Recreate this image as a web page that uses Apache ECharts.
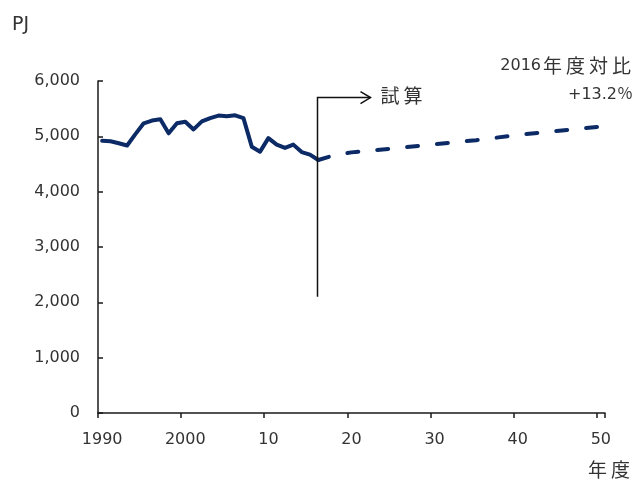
<!DOCTYPE html>
<html>
<head>
<meta charset="utf-8">
<script src="https://cdn.jsdelivr.net/npm/echarts@6/dist/echarts.min.js"></script>
<style>
  html, body { margin: 0; padding: 0; background: #fff; }
  #chart { width: 637px; height: 480px; }
</style>
</head>
<body>
<div id="chart"></div>
<script>
// Fiscal years on the horizontal axis
const years = [];
for (let y = 1990; y <= 2050; y++) years.push(String(y));

// Recorded values, FY1990–FY2016 (PJ)
const actualYears = ['1990','1991','1992','1993','1994','1995','1996','1997','1998','1999',
  '2000','2001','2002','2003','2004','2005','2006','2007','2008','2009',
  '2010','2011','2012','2013','2014','2015','2016'];
const actualValues = [4920, 4910, 4875, 4835, 5040, 5235, 5285, 5310, 5055, 5235,
  5265, 5125, 5270, 5330, 5375, 5365, 5380, 5330, 4813, 4723,
  4968, 4850, 4790, 4850, 4715, 4670, 4573];

// Estimated path, FY2016–FY2050 (PJ)
const estimateYears = ['2016','2018','2020','2025','2030','2035','2040','2045','2050'];
const estimateValues = [4573, 4660, 4710, 4780, 4858, 4930, 5025, 5100, 5177];

const yTicks = [0, 1000, 2000, 3000, 4000, 5000, 6000];

const FONT = 'DejaVu Sans, "Noto Sans CJK JP", sans-serif';
const CJK = '"Noto Sans CJK JP", sans-serif';
const TEXT = '#333';
const NAVY = '#0b2a66';

function alignTo(cats, vals) {
  const out = years.map(() => null);
  cats.forEach((c, i) => { out[years.indexOf(c)] = vals[i]; });
  return out;
}

// Spread CJK characters a little apart, as in the printed captions
function spaced(str) {
  return str.split('').map(ch => '{c|' + ch + '}').join('');
}

const chart = echarts.init(document.getElementById('chart'), null, { renderer: 'canvas' });

chart.setOption({
  animation: false,
  backgroundColor: '#fff',
  grid: { left: 98, right: 32, top: 81, bottom: 67 },
  xAxis: {
    type: 'category',
    data: years,
    boundaryGap: true,
    axisLine: { lineStyle: { color: '#1a1a1a', width: 1.5 } },
    axisTick: { show: true, interval: 9, length: 5, inside: false, lineStyle: { color: '#1a1a1a', width: 1.5 } },
    axisLabel: {
      interval: 9,
      margin: 19,
      fontFamily: FONT, fontSize: 16, color: TEXT,
      formatter: v => (v === '1990' || v === '2000') ? v : v.slice(2)
    },
    splitLine: { show: false }
  },
  yAxis: {
    type: 'value',
    min: yTicks[0], max: yTicks[yTicks.length - 1], interval: 1000,
    axisLine: { show: true, lineStyle: { color: '#1a1a1a', width: 1.5 } },
    axisTick: { show: true, inside: true, length: 5, lineStyle: { color: '#1a1a1a', width: 1.5 } },
    axisLabel: { margin: 18, fontFamily: FONT, fontSize: 16, color: TEXT },
    splitLine: { show: false }
  },
  series: [
    {
      name: '実績',
      type: 'line',
      data: alignTo(actualYears, actualValues),
      symbol: 'none',
      lineStyle: { color: NAVY, width: 4, join: 'round', cap: 'round' },
      z: 3
    },
    {
      name: '試算',
      type: 'line',
      data: alignTo(estimateYears, estimateValues),
      connectNulls: true,
      symbol: 'none',
      lineStyle: { color: NAVY, width: 4, type: [11, 19], cap: 'round', join: 'round' },
      z: 3
    }
  ]
});

// Marker for where the estimate begins: vertical rule with an arrow to the right
const ruleBase = chart.convertToPixel({ gridIndex: 0 }, ['2016', 2100]);
const ruleTop = chart.convertToPixel({ gridIndex: 0 }, ['2016', 5700]);
const vx = Math.round(ruleBase[0]) - 0.5;
const tipX = vx + 53;

const cjkRich = {
  c: { fontFamily: CJK, fontSize: 19, fill: TEXT, padding: [0, 2, 0, 2] },
  d: { fontFamily: FONT, fontSize: 16, fill: TEXT }
};

chart.setOption({
  graphic: [
    { type: 'polyline', z: 10, shape: { points: [[vx, ruleBase[1]], [vx, ruleTop[1]], [tipX, ruleTop[1]]] },
      style: { stroke: '#111', lineWidth: 1.5, fill: null } },
    { type: 'polyline', z: 10, shape: { points: [[tipX - 10, ruleTop[1] - 6], [tipX, ruleTop[1]], [tipX - 10, ruleTop[1] + 6]] },
      style: { stroke: '#111', lineWidth: 1.5, fill: null } },
    { type: 'text', z: 10, x: tipX + 8, y: ruleTop[1] - 2,
      style: { text: spaced('試算'), fill: TEXT, rich: cjkRich, verticalAlign: 'middle', align: 'left' } },
    { type: 'text', z: 10, x: 633, y: 66,
      style: { text: '{d|2016}' + spaced('年度対比'), fill: TEXT, rich: cjkRich, verticalAlign: 'middle', align: 'right' } },
    { type: 'text', z: 10, x: 633, y: 95,
      style: { text: '+13.2％', font: '16px ' + FONT, fill: TEXT, verticalAlign: 'middle', align: 'right' } },
    { type: 'text', z: 10, x: 12, y: 25,
      style: { text: 'PJ', font: '19px ' + FONT, fill: TEXT, verticalAlign: 'middle', align: 'left' } },
    { type: 'text', z: 10, x: 632, y: 470,
      style: { text: spaced('年度'), fill: TEXT, rich: cjkRich, verticalAlign: 'middle', align: 'right' } }
  ]
});
</script>
</body>
</html>
